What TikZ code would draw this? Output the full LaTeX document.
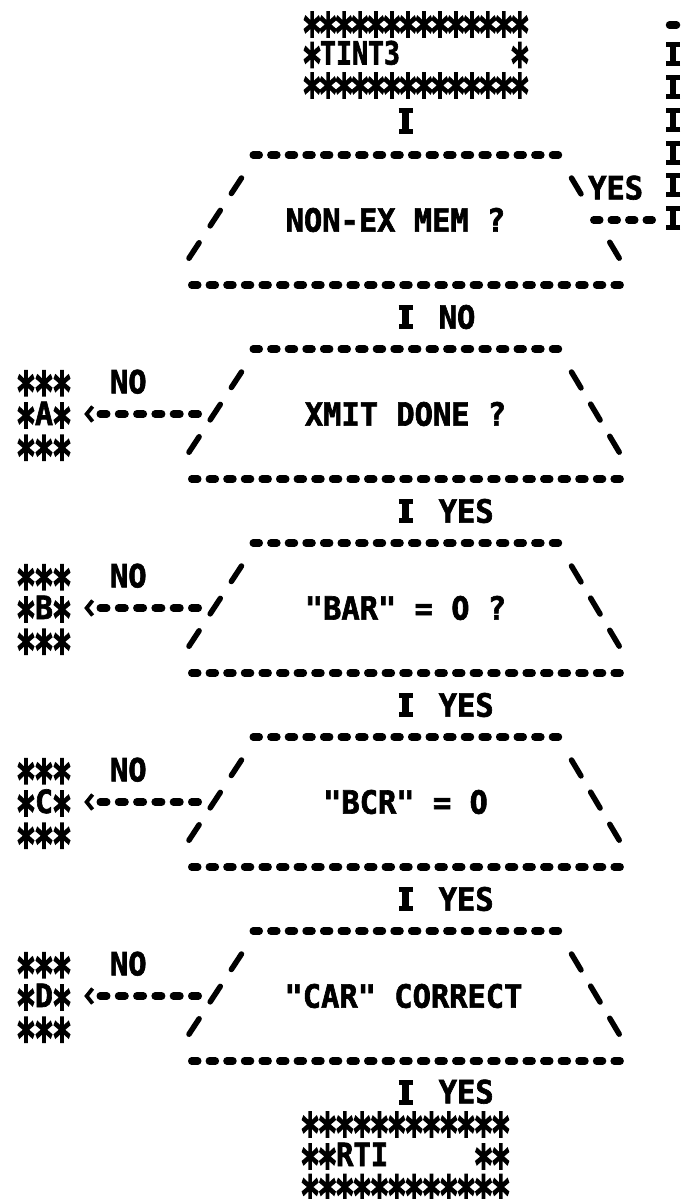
\documentclass[tikz,border=0pt]{standalone}
\usepackage{fontspec}
\usetikzlibrary{arrows.meta,calc,decorations.markings}

% line-printer lettering
\newfontfamily\prt{DejaVu Sans Mono}[FakeBold=2, FakeStretch=0.95]
\newfontfamily\prtn{DejaVu Sans Mono}[FakeBold=2, FakeStretch=0.83]
\newfontfamily\prtm{DejaVu Sans Mono}[FakeBold=2, FakeStretch=0.90]
\newfontfamily\prtl{DejaVu Sans Mono}[FakeBold=2, FakeStretch=0.935]
\newfontfamily\starfont{DejaVu Sans Mono}[FakeBold=5]
\newfontfamily\zfont{DejaVu Sans}[FakeBold=2, FakeStretch=0.8]

% a heavy printed asterisk, centred in its cell and on the capital height
\newcommand\pst{\setbox0\hbox{*}\makebox[\wd0]{\raisebox{-17.6pt}{\starfont\mdseries\scalebox{1.05}[1.65]{*}}}}
\newcommand\stars[1]{\foreach\i in {1,...,#1}{\pst}}
\newcommand\blk{\phantom{X}}
\newcommand\zr{\setbox0\hbox{0}\makebox[\wd0]{\zfont 0}}

\tikzset{
  txt/.style={inner sep=0pt, text height=23.3pt, text depth=0pt,
    font=\prt\bfseries\fontsize{32pt}{32pt}\selectfont},
  boxrow/.style={inner sep=0pt, text height=22pt, text depth=0pt,
    font=#1\bfseries\fontsize{32pt}{32pt}\selectfont},
  boxarea/.style={inner sep=0pt, minimum width=#1},
  qframe/.style={inner sep=0pt, minimum width=435pt, minimum height=130pt},
  dashrow/.style={line width=7.5pt, line cap=round, dash pattern=on 6pt off 11.6pt},
  slashes/.style={line width=5.5pt, line cap=round, dash pattern=#1},
  ibar/.style={line width=6.5pt,
    {Bar[width=14pt,line width=5pt]}-{Bar[width=14pt,line width=5pt]}},
  nobranch/.style={line width=7.5pt, line cap=round, dash pattern=on 6.5pt off 11.8pt,
    -{Straight Barb[length=6pt,width=15pt,line width=3.8pt,sep=5pt]}},
}

% decision outline: dashed top and bottom rows, three slashes on each side
\newcommand\qoutline[2]{%
  \draw[dashrow] ($(#1.center)+(-152.25,-65)$) -- ($(#1.center)+(152.95,-65)$);
  \draw[dashrow] ($(#1.center)+(-213.75,65)$) -- ($(#1.center)+(214.65,65)$);
  \draw[slashes={on 18.5pt off 20.2pt}] ($(#1.center)+(-164,-42)$) -- ($(#1.center)+(-219,42)$);
  \draw[slashes={#2}] ($(#1.center)+(166,-42)$) -- ($(#1.center)+(216,42)$);
}

% small exit box on the left: name, letter, row
\newcommand\sidebox[3]{%
  \node[boxarea={54pt}, minimum height=94pt] (#1) at (44,#3) {};
  \node[boxrow=\prtl] (#1t) at ($(#1)+(0,-32.3)$) {\stars{3}};
  \node[boxrow=\prtl] (#1m) at (#1) {\pst #2\pst};
  \node[boxrow=\prtl] (#1b) at ($(#1)+(0,32.3)$) {\stars{3}};
}

% NO branch from a decision to its exit box
\newcommand\nobr[2]{%
  \coordinate (#1w) at ($(#1)+(-191.5,0)$);
  \draw[nobranch, shorten <=15.75pt, shorten >=8pt] (#1w) --
    node[txt, pos=0.6, yshift=32.3pt] (#1no) {NO} (#2.east);
}

\begin{document}
\begin{tikzpicture}[x=1pt,y=-1pt]
\useasboundingbox (0,0) rectangle (681,1199);
\fill[white] (0,0) rectangle (681,1199);

% entry box
\node[boxarea={226pt}, minimum height=92pt] (tint) at (416,53.5) {};
\node[boxrow=\prtn] (tint1) at ($(tint)+(0,-30.5)$) {\stars{14}};
\node[boxrow=\prtn] (tint2) at (tint) {\pst TINT3\blk\blk\blk\blk\blk\blk\blk\pst};
\node[boxrow=\prtn] (tint3) at ($(tint)+(0,30.5)$) {\stars{14}};

% decisions
\node[qframe] (d1) at (405.5,220) {};
\node[qframe] (d2) at (405.5,414) {};
\node[qframe] (d3) at (405.5,608) {};
\node[qframe] (d4) at (405.5,802) {};
\node[qframe] (d5) at (405.5,996) {};
\node[txt] (q1) at ($(d1)+(-10,0)$) {NON-EX MEM ?};
\node[txt] (q2) at (d2) {XMIT DONE ?};
\node[txt] (q3) at (d3) {"BAR" = \zr{} ?};
\node[txt] (q4) at (d4) {"BCR" = \zr};
\node[txt] (q5) at ($(d5)+(-2,0)$) {"CAR" CORRECT};

\qoutline{d1}{on 18.5pt off 56.3pt on 18.5pt off 20pt}
\qoutline{d2}{on 18.5pt off 18.9pt}
\qoutline{d3}{on 18.5pt off 18.9pt}
\qoutline{d4}{on 18.5pt off 18.9pt}
\qoutline{d5}{on 18.5pt off 18.9pt}

% return box
\node[boxarea={208pt}, minimum height=92pt] (rti) at (405.5,1155) {};
\node[boxrow=\prtm] (rti1) at ($(rti)+(0,-32)$) {\stars{12}};
\node[boxrow=\prtm] (rti2) at (rti) {\pst\pst RTI\blk\blk\blk\blk\blk\pst\pst};
\node[boxrow=\prtm] (rti3) at ($(rti)+(0,30.5)$) {\stars{12}};

% exit boxes
\sidebox{ba}{A}{414}
\sidebox{bb}{B}{608}
\sidebox{bc}{C}{802}
\sidebox{bd}{D}{996}

% main flow
\draw[ibar, shorten <=8.5pt, shorten >=21pt] (tint.south -| d1.north) -- (d1.north);
\draw[ibar, shorten <=19.5pt, shorten >=19.5pt] (d1.south) --
  node[txt, anchor=west, xshift=30pt] (l1) {NO} (d2.north);
\draw[ibar, shorten <=19.5pt, shorten >=19.5pt] (d2.south) --
  node[txt, anchor=west, xshift=30pt] (l2) {YES} (d3.north);
\draw[ibar, shorten <=19.5pt, shorten >=19.5pt] (d3.south) --
  node[txt, anchor=west, xshift=30pt] (l3) {YES} (d4.north);
\draw[ibar, shorten <=19.5pt, shorten >=19.5pt] (d4.south) --
  node[txt, anchor=west, xshift=30pt] (l4) {YES} (d5.north);
\draw[ibar, shorten <=19pt, shorten >=4pt] (d5.south) --
  node[txt, anchor=west, pos=0.64, xshift=30pt] (l5) {YES} (rti.north);

% NO exits
\nobr{d2}{ba}
\nobr{d3}{bb}
\nobr{d4}{bc}
\nobr{d5}{bd}

% YES exit of the first decision, running up the right margin
\node[txt, anchor=west] (y1) at ($(d1)+(182.5,-32.3)$) {YES};
\coordinate (mr1) at ($(d1)+(188.25,0)$);
\coordinate (loopc) at (673,220);
\coordinate (looptop) at (673,25);
\draw[dashrow, dash pattern=on 6pt off 11.5pt, shorten >=12pt] (mr1) -- (loopc);
\path[decorate, decoration={markings,
    mark=between positions 2pt and 170pt step 32.7pt with {\draw[ibar] (-12,0) -- (12,0);},
    mark=at position 1 with {\draw[dashrow, solid] (0,-3.5) -- (0,3.5);}}]
  (loopc) -- (looptop);
\end{tikzpicture}
\end{document}
